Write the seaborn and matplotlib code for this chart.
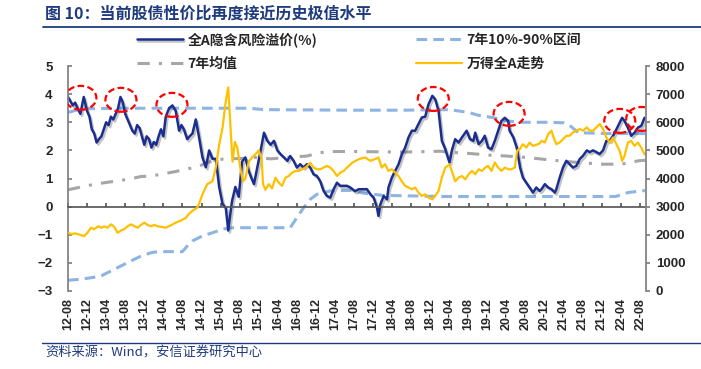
import numpy as np
import pandas as pd
import matplotlib
matplotlib.use("Agg")
import matplotlib.pyplot as plt
import matplotlib.patheffects as pe
from matplotlib.patches import Ellipse
from matplotlib.lines import Line2D
import seaborn as sns

# x = months since 2012-08
erp_month = [0, 0.5, 1, 1.5, 2, 2.6, 3.3, 4, 4.5, 5, 5.5, 6, 6.5, 7, 7.5, 8, 8.5, 9, 9.5, 10,
             10.5, 11, 11.5, 12, 12.5, 13, 13.5, 14, 14.5, 15, 15.5, 16, 16.5, 17, 17.5, 18, 18.5, 19, 19.5, 20,
             20.5, 21.2, 21.9, 22.6, 23.3, 23.8, 24.3, 25, 25.5, 26.1, 26.8, 27.5, 28.2, 28.9, 29.6, 30.3, 31, 31.7, 32.4, 33.1,
             33.6, 34, 34.4, 35.1, 35.8, 36.5, 37.2, 37.9, 38.5, 39, 39.7, 40.4, 41.1, 41.8, 42.5, 43.2, 43.9, 44.6, 45.3, 46,
             46.6, 47.3, 48, 48.7, 49.4, 50.1, 50.8, 51.5, 52.2, 52.9, 53.6, 54.3, 55, 55.7, 56.4, 57.1, 57.8, 58.5, 59.2, 60.2,
             61, 62, 62.7, 63.4, 64.1, 64.8, 65.1, 65.5, 66.2, 66.9, 67.2, 67.9, 68.6, 69.3, 70, 70.7, 71.4, 72.1, 72.8, 73.5,
             74.2, 74.9, 75.6, 76.4, 77, 77.7, 78.4, 79.1, 80, 80.5, 81.2, 81.9, 82.6, 83.6, 84.3, 85, 85.4, 86.1, 86.8, 87.4,
             88.1, 88.8, 89.5, 90.2, 90.9, 91.6, 92.3, 92.6, 93.4, 94.1, 94.8, 95.4, 96.1, 96.8, 97.5, 98.2, 98.9, 99.3, 100, 100.7,
             101.4, 102.1, 102.4, 103.1, 103.8, 104.5, 105.2, 105.9, 106.6, 107.3, 108, 108.8, 109.4, 110.1, 110.8, 111.5, 112.2, 112.9, 113.6, 114.3,
             115, 115.7, 116.2, 116.7, 117.4, 118.1, 118.8, 119.5, 120.2, 120.9]
erp_value = [3.9, 3.75, 3.6, 3.7, 3.5, 3.3, 3.9, 3.4, 3.2, 2.75, 2.6, 2.28, 2.4, 2.5, 2.75, 3.0, 2.9, 3.2, 3.1, 3.3,
             3.5, 3.9, 3.7, 3.3, 3.1, 2.9, 2.7, 2.6, 2.9, 2.8, 2.5, 2.2, 2.5, 2.4, 2.1, 2.3, 2.2, 2.5, 2.75, 2.5,
             3.2, 3.5, 3.6, 3.4, 2.7, 2.9, 2.75, 2.4, 2.5, 2.6, 3.1, 2.45, 1.75, 1.4, 2.0, 1.7, 1.7, 0.7, 0.1, -0.05,
             -0.85, -0.3, 0.2, 0.7, 0.35, 1.6, 1.75, 1.27, 1.0, 0.8, 1.4, 2.0, 2.63, 2.34, 2.2, 2.34, 2.0, 1.86, 1.75, 1.63,
             1.8, 1.63, 1.39, 1.51, 1.39, 1.51, 1.39, 1.15, 1.09, 0.9, 0.56, 0.38, 0.32, 0.62, 0.85, 0.74, 0.74, 0.74, 0.68, 0.55,
             0.62, 0.62, 0.62, 0.44, 0.32, -0.04, -0.33, 0.08, 0.38, 0.26, 0.68, 1.03, 1.27, 1.5, 1.86, 2.1, 2.46, 2.7, 2.7, 2.94,
             3.17, 3.2, 3.64, 3.94, 3.82, 3.41, 2.34, 2.05, 1.57, 2.0, 2.4, 2.28, 2.46, 2.7, 2.4, 2.34, 2.63, 2.22, 2.34, 2.52,
             2.1, 2.04, 2.34, 2.7, 3.05, 3.16, 3.05, 2.7, 2.46, 2.1, 1.39, 1.03, 0.85, 0.68, 0.5, 0.68, 0.56, 0.62, 0.8, 0.68,
             0.62, 0.5, 0.62, 1.03, 1.39, 1.63, 1.51, 1.39, 1.45, 1.69, 1.81, 2.0, 1.94, 2.0, 1.94, 1.87, 2.0, 2.34, 2.34, 2.52,
             2.75, 2.99, 3.16, 3.05, 2.81, 2.52, 2.63, 2.81, 2.87, 3.16]

band_hi_month = [0, 1.5, 3, 10, 20, 30, 38, 41, 50, 60, 70, 80, 84, 86, 89, 92, 95, 101, 104, 105.5, 107, 113, 121]
band_hi_value = [3.35, 3.42, 3.48, 3.5, 3.5, 3.5, 3.5, 3.45, 3.44, 3.43, 3.43, 3.45, 3.35, 3.25, 3.17, 3.05, 3.0, 3.0, 2.98, 2.85, 2.63, 2.6, 2.6]

band_lo_month = [0, 2.7, 4.8, 6.9, 9, 11.1, 13.2, 15.3, 17.4, 18.8, 24, 25, 26.1, 28.2, 30.3, 32.4, 34.4, 46.6, 48, 49.4,
                 50.8, 52.2, 53.6, 55, 59.2, 62, 66, 79, 100, 114.8, 116, 117.4, 120.2, 121]
band_lo_value = [-2.62, -2.58, -2.53, -2.47, -2.29, -2.11, -1.93, -1.76, -1.64, -1.6, -1.6, -1.4, -1.22, -1.04, -0.93, -0.8, -0.75, -0.75, -0.39, -0.04,
                 0.26, 0.44, 0.5, 0.56, 0.58, 0.48, 0.4, 0.36, 0.36, 0.36, 0.42, 0.5, 0.56, 0.57]

mean_month = [0, 4.8, 7.6, 9.7, 12.5, 15.3, 17.4, 19.5, 22.6, 27.1, 30.3, 32.4, 37.2, 39.3, 42.5, 46, 50.1, 52.9, 55, 60,
              70, 78, 81.5, 84.3, 88.5, 91.9, 96.1, 100, 103.5, 107, 111.8, 115.3, 116.7, 119.6, 121]
mean_value = [0.6, 0.77, 0.85, 0.9, 0.97, 1.07, 1.09, 1.15, 1.25, 1.42, 1.63, 1.69, 1.72, 1.75, 1.7, 1.75, 1.8, 1.92, 1.96, 1.96,
              1.94, 1.97, 1.92, 1.89, 1.83, 1.8, 1.75, 1.68, 1.62, 1.57, 1.51, 1.51, 1.53, 1.63, 1.65]

wind_month = [0, 0.8, 1.5, 2.5, 3.4, 4.2, 4.8, 5.5, 6.3, 7, 7.6, 8.3, 9, 9.7, 10.4, 11.1, 11.8, 12.5, 13.2, 14,
              14.6, 15.3, 16, 16.7, 17.4, 18.1, 18.8, 19.6, 20.5, 21.5, 22.6, 23.6, 24.7, 25.4, 26.1, 27.1, 27.6, 28.2, 29.2, 30.3,
              31, 31.7, 32.4, 33.1, 33.6, 34.1, 34.5, 35, 35.5, 36.2, 36.7, 37.2, 37.9, 38.6, 39.3, 40, 40.6, 40.9, 41.4, 42.1,
              42.8, 43.5, 44.2, 44.9, 45.6, 46.3, 47, 47.7, 48.4, 49.1, 49.8, 50.8, 51.5, 52.2, 52.9, 53.6, 54.3, 55, 55.7, 56.4,
              57.1, 57.8, 58.5, 59.6, 61, 62.3, 63.4, 64.4, 65.1, 65.8, 66.5, 67.2, 67.9, 68.6, 69.3, 70, 70.7, 71.4, 72.1, 72.8,
              73.5, 74.2, 74.9, 75.6, 76.4, 77, 77.7, 78.4, 79.1, 80, 80.5, 81.2, 81.9, 82.6, 83.3, 84, 84.7, 85.4, 86.1, 86.8,
              87.5, 88.1, 88.8, 89.5, 90.2, 90.9, 91.6, 92.3, 93, 93.7, 94.2, 94.8, 95.4, 96.1, 96.8, 97.5, 98.2, 98.9, 99.3, 100,
              100.7, 101.4, 101.7, 102.4, 103.1, 103.8, 104.5, 105.2, 105.9, 106.6, 107.3, 108, 108.8, 109.4, 110.1, 110.8, 111.5, 112.2, 112.9, 113.6,
              114.3, 115, 115.7, 116.2, 116.7, 117.4, 118.1, 118.8, 119.5, 120.2, 120.9]
wind_value = [2070, 2020, 2050, 2000, 1950, 2100, 2250, 2200, 2300, 2250, 2300, 2250, 2370, 2280, 2070, 2150, 2200, 2300, 2370, 2300,
              2250, 2350, 2430, 2350, 2300, 2350, 2300, 2280, 2250, 2330, 2430, 2500, 2600, 2750, 2850, 2960, 3150, 3440, 3800, 3900,
              4390, 5200, 5800, 6760, 7240, 5800, 4600, 5300, 5100, 4300, 3900, 4000, 4600, 4750, 4860, 5000, 4700, 3800, 3600, 3800,
              3650, 4030, 3850, 3740, 4030, 4090, 4210, 4270, 4270, 4330, 4390, 4560, 4390, 4330, 4330, 4390, 4450, 4390, 4270, 4090,
              4210, 4270, 4390, 4560, 4690, 4750, 4630, 4690, 4750, 4390, 4510, 4270, 4330, 4210, 4090, 3900, 3740, 3680, 3620, 3680,
              3500, 3380, 3440, 3320, 3260, 3380, 3560, 4030, 4390, 4500, 4270, 3900, 4030, 4090, 3970, 4150, 4270, 4150, 4330, 4270,
              4390, 4450, 4270, 4570, 4390, 4270, 4390, 4330, 4330, 4390, 5000, 5060, 5220, 5100, 5280, 5160, 5200, 5250, 5340, 5280,
              5580, 5700, 5520, 5220, 5280, 5400, 5520, 5520, 5640, 5700, 5760, 5700, 5820, 5700, 5700, 5820, 5940, 5760, 5460, 5280,
              5460, 5220, 4980, 4630, 4800, 5280, 5340, 5160, 5280, 5100, 4860]

tick_month = list(range(0, 121, 4))
tick_label = ["12-08", "12-12", "13-04", "13-08", "13-12", "14-04", "14-08", "14-12", "15-04", "15-08",
              "15-12", "16-04", "16-08", "16-12", "17-04", "17-08", "17-12", "18-04", "18-08", "18-12",
              "19-04", "19-08", "19-12", "20-04", "20-08", "20-12", "21-04", "21-08", "21-12", "22-04", "22-08"]

# red circles around the extreme values (month, left-axis value)
circle_month = [2.7, 11.1, 21.8, 76.6, 92.5, 115.7, 120.3]
circle_value = [3.87, 3.8, 3.62, 3.83, 3.3, 3.05, 3.12]

NAVY = "#1B2E8F"
TEXT_BLUE = "#1F3B7E"
LIGHT_BLUE = "#8DB4E2"
GRAY = "#A6A6A6"
GOLD = "#FFC000"

sns.set_theme(style="white")
plt.rcParams['font.family'] = ['Liberation Sans', 'Noto Sans CJK SC', 'DejaVu Sans']
cjk = ['Noto Sans CJK SC', 'DejaVu Sans']

fig = plt.figure(figsize=(7.01, 3.69), dpi=100)
ax = fig.add_axes([0.097, 0.2114, 0.8245, 0.6096])
ax2 = ax.twinx()

sns.lineplot(x=band_hi_month, y=band_hi_value, ax=ax, color=LIGHT_BLUE, lw=2.2,
             linestyle=(0, (3.5, 2)), errorbar=None, label="7年10%-90%区间", legend=False)
sns.lineplot(x=band_lo_month, y=band_lo_value, ax=ax, color=LIGHT_BLUE, lw=2.2,
             linestyle=(0, (3.5, 2)), errorbar=None, legend=False)
sns.lineplot(x=mean_month, y=mean_value, ax=ax, color=GRAY, lw=2.2,
             linestyle=(0, (4, 3, 1, 3)), errorbar=None, label="7年均值", legend=False)
sns.lineplot(x=erp_month, y=erp_value, ax=ax, color=NAVY, lw=1.8, errorbar=None,
             label="全A隐含风险溢价(%)", legend=False,
             path_effects=[pe.SimpleLineShadow(offset=(1.2, -1.5), shadow_color="#555555", alpha=0.35),
                           pe.Normal()])
sns.lineplot(x=wind_month, y=wind_value, ax=ax2, color=GOLD, lw=1.6, errorbar=None,
             label="万得全A走势", legend=False)

for cm, cv in zip(circle_month, circle_value):
    ax2.add_patch(Ellipse((cm, cv), width=6.5, height=0.85, transform=ax.transData,
                          fill=False, edgecolor="#FF0000", lw=1.6, linestyle=(0, (3, 1.5)), zorder=5))

ax.set_xlim(0, 121.2)
ax.set_ylim(-3, 5)
ax2.set_ylim(0, 8000)
ax.set_yticks(range(-3, 6))
ax2.set_yticks(range(0, 8001, 1000))

for a in (ax, ax2):
    a.spines['top'].set_visible(False)
ax.spines['right'].set_visible(False)
ax2.spines['left'].set_visible(False)
ax2.spines['bottom'].set_visible(False)
ax.spines['left'].set_color('#808080')
ax2.spines['right'].set_color('#808080')
ax.spines['bottom'].set_position(('data', 0))
ax.spines['bottom'].set_color('#595959')

ax.set_xticks(tick_month)
ax.tick_params(axis='x', direction='in', length=3, color='#595959', labelbottom=False, bottom=True)
ax.tick_params(axis='y', direction='in', length=3, color='#808080', left=True, pad=11)
ax2.tick_params(axis='y', direction='out', length=3, color='#808080', right=True, pad=4)
for lab in ax.get_yticklabels() + ax2.get_yticklabels():
    lab.set_fontweight('bold')
    lab.set_fontsize(9.5)

sec = ax.secondary_xaxis(0)
sec.set_xticks(tick_month)
sec.set_xticklabels(tick_label, rotation=90, fontsize=9, fontweight='bold')
sec.tick_params(length=0, pad=5)
sec.spines['bottom'].set_visible(False)

h = ax.get_lines()
handles = [h[3], h[2], h[0], ax2.get_lines()[0]]
labels = ["全A隐含风险溢价(%)", "7年均值", "7年10%-90%区间", "万得全A走势"]
fig.legend(handles, labels, loc='upper left', bbox_to_anchor=(0.195, 0.913), ncol=2, frameon=False,
           prop={'family': cjk, 'weight': 'bold', 'size': 10}, handlelength=3.3, handletextpad=0.35,
           columnspacing=7.1, labelspacing=0.72, borderaxespad=0, borderpad=0)

fig.text(0.064, 0.962, "图 10：当前股债性价比再度接近历史极值水平", family=cjk, fontweight='bold',
         fontsize=11.5, color=TEXT_BLUE, va='center', ha='left')
fig.add_artist(Line2D([0.061, 1.0], [0.927, 0.927], color=TEXT_BLUE, lw=1.3))
fig.add_artist(Line2D([0.06, 1.0], [0.0705, 0.0705], color=TEXT_BLUE, lw=1.0))
fig.text(0.064, 0.043, "资料来源：Wind，安信证券研究中心", family=cjk, style='italic',
         fontsize=9.5, color=TEXT_BLUE, va='center', ha='left')

fig.savefig("out.png", dpi=100)
